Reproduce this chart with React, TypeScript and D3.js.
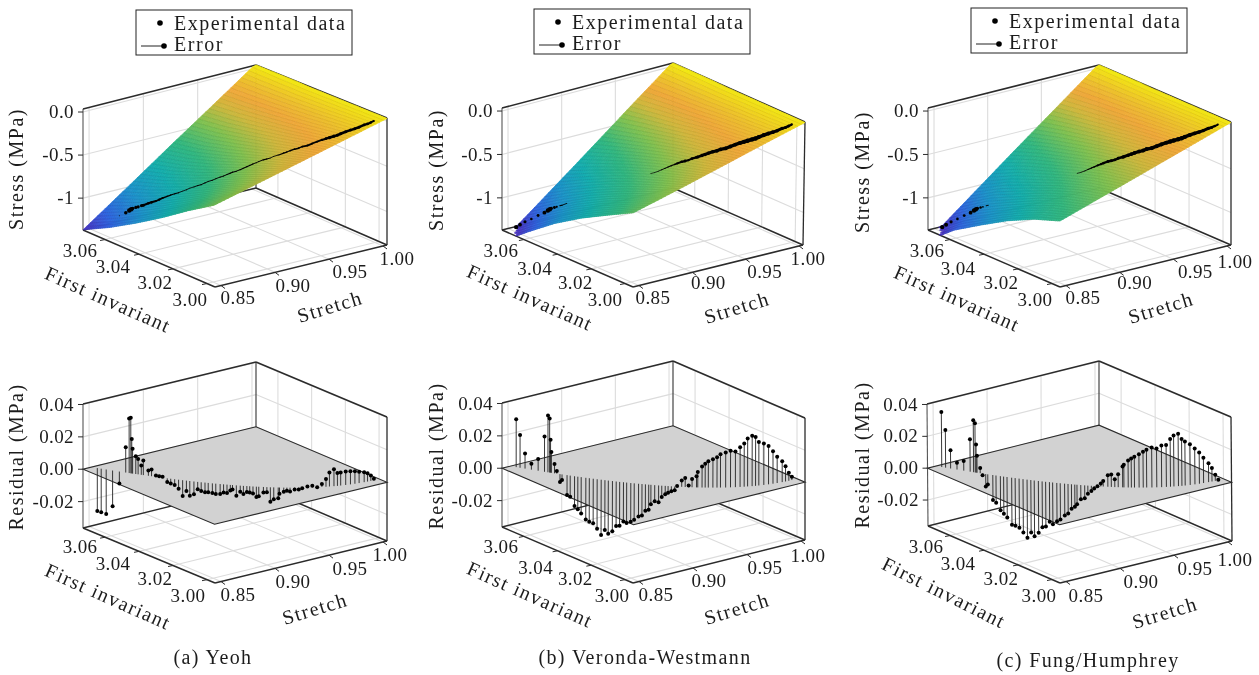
import React, { useEffect, useRef } from "react";
import * as d3 from "d3";

// Experimental samples, shared by all three fits
const stretchSamples = [
  0.8543, 0.8557, 0.8575, 0.8598, 0.8623, 0.8646, 0.8659, 0.8665, 0.8669, 0.8672, 0.8684, 0.8693, 0.8705, 0.8713, 0.8733,
  0.8745, 0.8762, 0.8775, 0.8789, 0.8807, 0.8822, 0.8838, 0.8854, 0.8871, 0.8887, 0.8901, 0.8919, 0.8935, 0.895, 0.8968,
  0.8982, 0.9, 0.9016, 0.9036, 0.9052, 0.9068, 0.9083, 0.9094, 0.9112, 0.9131, 0.9146, 0.9164, 0.9178, 0.9194, 0.9211,
  0.9224, 0.9248, 0.9266, 0.9284, 0.9303, 0.9327, 0.9334, 0.9358, 0.9376, 0.9394, 0.9421, 0.9445, 0.9466, 0.9497, 0.9528,
  0.9559, 0.959, 0.9617, 0.9641, 0.9672, 0.9696, 0.972, 0.9757, 0.9793, 0.9828, 0.9862, 0.9904, 0.9932, 0.9961, 0.9989,
];
const invariantSamples = [
  3.0709, 3.0695, 3.0677, 3.0654, 3.063, 3.0607, 3.0595, 3.0589, 3.0586, 3.0583, 3.0572, 3.0564, 3.0553, 3.0546, 3.0529,
  3.0518, 3.0503, 3.0492, 3.0481, 3.0465, 3.0454, 3.0441, 3.0428, 3.0415, 3.0403, 3.0392, 3.0379, 3.0367, 3.0356, 3.0345,
  3.0335, 3.0322, 3.0312, 3.0299, 3.0289, 3.0279, 3.0269, 3.0263, 3.0252, 3.0241, 3.0232, 3.0223, 3.0215, 3.0206, 3.0197,
  3.0191, 3.0179, 3.017, 3.0161, 3.0153, 3.0142, 3.0139, 3.0129, 3.0122, 3.0115, 3.0105, 3.0096, 3.0089, 3.0078, 3.0069,
  3.006, 3.0052, 3.0045, 3.004, 3.0033, 3.0028, 3.0024, 3.0018, 3.0013, 3.0009, 3.0006, 3.0003, 3.0001, 3.0, 3.0,
];
const stressSamples = [
  -1.349, -1.314, -1.271, -1.225, -1.174, -1.128, -1.097, -1.081, -1.074, -1.066, -1.05, -1.039, -1.021, -1.012, -0.981,
  -0.965, -0.942, -0.922, -0.899, -0.872, -0.853, -0.833, -0.814, -0.791, -0.771, -0.748, -0.729, -0.709, -0.694, -0.671,
  -0.651, -0.632, -0.612, -0.589, -0.574, -0.554, -0.535, -0.523, -0.508, -0.488, -0.469, -0.45, -0.434, -0.415, -0.399,
  -0.386, -0.364, -0.353, -0.341, -0.322, -0.306, -0.302, -0.283, -0.271, -0.257, -0.24, -0.229, -0.213, -0.202, -0.182,
  -0.163, -0.147, -0.136, -0.128, -0.116, -0.109, -0.097, -0.081, -0.07, -0.062, -0.054, -0.039, -0.035, -0.027, -0.019,
];

// Residuals of each fit, same order as the samples
const residualYeoh = [
  -0.0265, -0.0269, -0.0275, -0.0221, -0.0074, 0.0157, 0.0337, 0.0343, 0.0213, 0.0153, 0.011, 0.0095, 0.0057, 0.0091, 0.0033,
  0.0041, 0.0008, 0.0006, 0.0006, -0.0023, -0.0029, -0.0035, -0.0056, -0.0097, -0.0064, -0.0091, -0.0079, -0.0045, -0.0054, -0.006,
  -0.0058, -0.006, -0.0064, -0.0062, -0.005, -0.0052, -0.0035, -0.0027, -0.0064, -0.0037, -0.005, -0.0037, -0.0039, -0.0043, -0.0064,
  -0.0059, -0.0035, -0.0031, -0.0089, -0.0074, -0.0066, -0.0039, -0.0025, -0.0019, -0.0024, -0.0012, -0.0012, -0.0004, 0.0006, 0.001,
  0.0, 0.0019, 0.0048, 0.0087, 0.0105, 0.0079, 0.0081, 0.0083, 0.0081, 0.0077, 0.007, 0.0062, 0.0052, 0.0033, 0.0008,
];
const residualVeronda = [
  0.0296, 0.0202, 0.0094, 0.0037, 0.0073, 0.0219, 0.0352, 0.0335, 0.0204, 0.0129, 0.0058, 0.0017, -0.0049, -0.0035, -0.0123,
  -0.0131, -0.0185, -0.0202, -0.0225, -0.0258, -0.0271, -0.0277, -0.0308, -0.0344, -0.031, -0.0331, -0.0312, -0.0277, -0.0273, -0.0244,
  -0.0252, -0.024, -0.0227, -0.0204, -0.0196, -0.0165, -0.0156, -0.0121, -0.01, -0.0104, -0.0071, -0.0052, -0.0042, -0.0031, -0.0023,
  0.0003, 0.004, 0.0056, 0.001, 0.0052, 0.0069, 0.0096, 0.0131, 0.0148, 0.0164, 0.0177, 0.019, 0.0208, 0.0219, 0.0229,
  0.0223, 0.0248, 0.0271, 0.03, 0.0315, 0.0306, 0.0273, 0.026, 0.024, 0.0204, 0.0165, 0.0131, 0.0096, 0.005, 0.0021,
];
const residualFung = [
  0.0345, 0.0237, 0.0114, 0.0042, 0.0061, 0.0203, 0.0326, 0.0309, 0.0176, 0.0106, 0.0032, -0.0011, -0.0078, -0.0063, -0.0157,
  -0.0171, -0.0214, -0.0233, -0.0254, -0.0294, -0.0298, -0.0307, -0.0334, -0.0364, -0.0328, -0.0349, -0.0324, -0.0286, -0.0279, -0.0248,
  -0.026, -0.0239, -0.0226, -0.0199, -0.0184, -0.0152, -0.0138, -0.0121, -0.0089, -0.008, -0.0051, -0.0032, -0.0015, 0.0, 0.0019,
  0.0035, 0.0072, 0.0078, 0.0049, 0.008, 0.0129, 0.014, 0.0167, 0.018, 0.0192, 0.0207, 0.0222, 0.0235, 0.0248, 0.0241,
  0.0258, 0.026, 0.0296, 0.0315, 0.0324, 0.029, 0.0273, 0.0252, 0.0222, 0.0193, 0.0157, 0.0116, 0.0083, 0.0038, 0.0002,
];

// Fitted surfaces, read at a coarse grid (rows: invariant, columns: stretch)
const surfaceStretch = [0.8444, 0.8842, 0.9241, 0.9639, 1.0037];
const surfaceInvariant = [2.9953, 3.0108, 3.0264, 3.0419, 3.0575, 3.073];
const surfaceYeoh = [
  [-0.45, -0.33, -0.21, -0.09, 0.03],
  [-0.635, -0.47, -0.3, -0.14, 0.03],
  [-0.84, -0.62, -0.4, -0.19, 0.03],
  [-1.03, -0.77, -0.5, -0.23, 0.03],
  [-1.21, -0.9, -0.59, -0.27, 0.04],
  [-1.368, -1.01, -0.65, -0.3, 0.05],
];
const surfaceVeronda = [
  [-0.5, -0.37, -0.235, -0.1, 0.03],
  [-0.665, -0.49, -0.32, -0.145, 0.03],
  [-0.835, -0.62, -0.4, -0.185, 0.03],
  [-1.03, -0.765, -0.5, -0.235, 0.03],
  [-1.26, -0.93, -0.61, -0.28, 0.04],
  [-1.5, -1.11, -0.72, -0.33, 0.05],
];
const surfaceFung = [
  [-0.61, -0.45, -0.29, -0.13, 0.03],
  [-0.72, -0.53, -0.345, -0.155, 0.03],
  [-0.87, -0.645, -0.42, -0.195, 0.03],
  [-1.05, -0.78, -0.51, -0.235, 0.03],
  [-1.24, -0.92, -0.6, -0.28, 0.04],
  [-1.49, -1.1, -0.71, -0.33, 0.05],
];

const stretchTicks = [0.85, 0.9, 0.95, 1.0];
const invariantTicks = [3.0, 3.02, 3.04, 3.06];
const stressTicks = [0, -0.5, -1];
const stressTickLabels = ["0.0", "-0.5", "-1"];
const residualTicks = [0.04, 0.02, 0, -0.02];
const residualTickLabels = ["0.04", "0.02", "0.00", "-0.02"];

const colorStress = [-1.37, -1.2, -1.0, -0.8, -0.6, -0.42, -0.28, -0.17, -0.08, 0.0, 0.04];
const colorStops = ["#4a2fc0", "#2d62e0", "#1a92cc", "#12aeae", "#30b880", "#80c250", "#d0b83c", "#f0a83a", "#eec02c", "#f2dc18", "#f4ee10"];

type Pt = [number, number];
const FONT = "'Liberation Serif', 'DejaVu Serif', serif";
const INK = "#1c1c1c";

// Screen layout of each plot: F front, R right, L left, B back on the floor; T = top of that edge.
// sOff / iOff are label offsets of the stretch / invariant ticks, titles are [x, y] centres.
const panels = [
  {
    caption: "(a) Yeoh", captionAt: [213, 664], legend: [136, 10],
    surface: surfaceYeoh, residual: residualYeoh,
    top: {
      F: [215, 287], R: [387, 245], L: [83, 230], B: [256, 188], TL: [83, 109], TR: [387, 118], TB: [256, 65],
      sOff: [[17, 12.5], [18, 14], [21, 13], [14, 13]], iOff: [[-17, 16], [-18, 14], [-26, 13], [-25, 11.5]],
      stretchAt: [330, 307], firstAt: [108, 300], firstAngle: 24, zAt: [17, 169],
    },
    bottom: {
      F: [215, 583], R: [387, 541], L: [83, 528], B: [256, 485], TL: [83, 404], TR: [387, 417], TB: [256, 362],
      sOff: [[17, 13.5], [18, 14], [21, 14], [7, 13]], iOff: [[-19, 16], [-18, 13.5], [-26, 13], [-25, 10]],
      stretchAt: [315, 609], firstAt: [108, 597], firstAngle: 24, zAt: [17, 457],
    },
  },
  {
    caption: "(b) Veronda-Westmann", captionAt: [645, 664], legend: [534, 9],
    surface: surfaceVeronda, residual: residualVeronda,
    top: {
      F: [633, 287], R: [803, 245], L: [502, 230], B: [673, 188], TL: [502, 108], TR: [805, 122], TB: [673, 63],
      sOff: [[14, 12.5], [16, 11], [19, 13], [9, 13]], iOff: [[-20, 16], [-16, 14], [-23, 15], [-23, 11.5]],
      stretchAt: [737, 308], firstAt: [530, 298], firstAngle: 24, zAt: [437, 170],
    },
    bottom: {
      F: [633, 583], R: [805, 540], L: [502, 527], B: [673, 484], TL: [502, 403], TR: [805, 418], TB: [673, 361],
      sOff: [[17, 13.5], [16, 13], [18, 13.5], [7, 15]], iOff: [[-13, 16], [-16, 14], [-22, 17], [-23, 11]],
      stretchAt: [737, 609], firstAt: [530, 595], firstAngle: 24, zAt: [437, 456],
    },
  },
  {
    caption: "(c) Fung/Humphrey", captionAt: [1088, 667], legend: [971, 8],
    surface: surfaceFung, residual: residualFung,
    top: {
      F: [1060, 287], R: [1231, 245], L: [928, 230], B: [1099, 188], TL: [928, 108], TR: [1231, 122], TB: [1099, 65],
      sOff: [[17, 12.5], [15, 11], [22, 13], [8, 16]], iOff: [[-17, 16], [-17, 14], [-26, 15], [-23, 11.5]],
      stretchAt: [1161, 308], firstAt: [957, 299], firstAngle: 24, zAt: [863, 172],
    },
    bottom: {
      F: [1060, 583], R: [1232, 541], L: [928, 526], B: [1099, 483], TL: [927, 404], TR: [1231, 417], TB: [1099, 361],
      sOff: [[20, 14.5], [21, 14], [21, 13.5], [7, 18]], iOff: [[-13, 16], [-17, 14], [-26, 14], [-24, 11]],
      stretchAt: [1165, 613], firstAt: [944, 593], firstAngle: 26.5, zAt: [863, 455],
    },
  },
];

const uScale = d3.scaleLinear().domain([0.8444, 1.0037]).range([0, 1]);
const vScale = d3.scaleLinear().domain([2.9953, 3.073]).range([0, 1]);

const mix = (a: Pt, b: Pt, t: number): Pt => [a[0] + (b[0] - a[0]) * t, a[1] + (b[1] - a[1]) * t];

// trilinear projection between the eight box corners
const makeProjection = (box: any, zDomain: number[]) => {
  const w = d3.scaleLinear().domain(zDomain).range([0, 1]);
  const TF: Pt = [box.TL[0] + box.TR[0] - box.TB[0], box.TL[1] + box.TR[1] - box.TB[1]];
  return (stretch: number, invariant: number, z: number): Pt => {
    const u = uScale(stretch);
    const v = vScale(invariant);
    const floor = mix(mix(box.F, box.R, u), mix(box.L, box.B, u), v);
    const ceil = mix(mix(TF, box.TR, u), mix(box.TL, box.TB, u), v);
    return mix(floor, ceil, w(z));
  };
};

const drawBox = (g: any, project: any, box: any, zDomain: number[], zTicks: number[], zLabels: string[], zTitle: string) => {
  const [zMin, zMax] = zDomain;
  const [sMin, sMax] = uScale.domain();
  const [iMin, iMax] = vScale.domain();
  const seg = (a: Pt, b: Pt, stroke: string, width: number) =>
    g.append("line").attr("x1", a[0]).attr("y1", a[1]).attr("x2", b[0]).attr("y2", b[1]).attr("stroke", stroke).attr("stroke-width", width);
  const GRID = "#dcdcdc";

  stretchTicks.forEach((t) => {
    seg(project(t, iMin, zMin), project(t, iMax, zMin), GRID, 1.1);
    seg(project(t, iMax, zMin), project(t, iMax, zMax), GRID, 1.1);
  });
  invariantTicks.forEach((t) => {
    seg(project(sMin, t, zMin), project(sMax, t, zMin), GRID, 1.1);
    seg(project(sMax, t, zMin), project(sMax, t, zMax), GRID, 1.1);
  });
  zTicks.forEach((t) => {
    seg(project(sMin, iMax, t), project(sMax, iMax, t), GRID, 1.1);
    seg(project(sMax, iMax, t), project(sMax, iMin, t), GRID, 1.1);
  });

  const DARK = "#2b2b2b";
  seg(box.L, box.TL, "#555", 1.1);
  seg(box.R, box.TR, DARK, 1.3);
  seg(box.B, box.TB, "#444", 1.2);
  seg(box.TL, box.TB, DARK, 1.5);
  seg(box.TB, box.TR, DARK, 1.5);
  seg(box.L, box.B, DARK, 1.3);
  seg(box.B, box.R, DARK, 1.5);
  seg(box.L, box.F, DARK, 1.5);
  seg(box.F, box.R, DARK, 1.5);

  const tickText = (p: Pt, label: string, anchor = "middle") =>
    g.append("text").attr("x", p[0]).attr("y", p[1]).attr("text-anchor", anchor).attr("dy", "0.32em")
      .attr("font-family", FONT).attr("font-size", 19).attr("letter-spacing", 0.4).attr("fill", INK).text(label);

  stretchTicks.forEach((t, i) => {
    const p = project(t, iMin, zMin);
    seg(p, [p[0] + 4, p[1] + 3] as Pt, DARK, 1);
    tickText([p[0] + box.sOff[i][0], p[1] + box.sOff[i][1]], t.toFixed(2));
  });
  invariantTicks.forEach((t, i) => {
    const p = project(sMin, t, zMin);
    seg(p, [p[0] - 5, p[1] + 1] as Pt, DARK, 1);
    tickText([p[0] + box.iOff[i][0], p[1] + box.iOff[i][1]], t.toFixed(2));
  });
  zTicks.forEach((t, i) => {
    const p = project(sMin, iMax, t);
    seg(p, [p[0] - 5, p[1]] as Pt, DARK, 1);
    tickText([p[0] - 9, p[1]], zLabels[i], "end");
  });

  const title = (at: number[], angle: number, label: string) =>
    g.append("text").attr("transform", `translate(${at[0]},${at[1]}) rotate(${angle})`).attr("text-anchor", "middle").attr("dy", "0.32em")
      .attr("font-family", FONT).attr("font-size", 20).attr("letter-spacing", 1.5).attr("fill", INK).text(label);
  title(box.stretchAt, -17, "Stretch");
  title(box.firstAt, box.firstAngle, "First invariant");
  title(box.zAt, -90, zTitle);
};

const App = () => {
  const svgRef = useRef<SVGSVGElement>(null);

  useEffect(() => {
    const svg = d3.select(svgRef.current);
    svg.selectAll("*").remove();

    const color = d3.scaleLinear<string>().domain(colorStress).range(colorStops).clamp(true);
    const radius = d3.scaleLinear().domain([-0.0125, -0.004, 0.005, 0.03]).range([0.35, 0.6, 1.4, 2.2]).clamp(true);

    panels.forEach((panel) => {
      // ---- upper plot: stress surface ----
      const stressDomain = [-1.37, 0.035];
      const top = svg.append("g");
      const projectTop = makeProjection(panel.top, stressDomain);
      drawBox(top, projectTop, panel.top, stressDomain, stressTicks, stressTickLabels, "Stress (MPa)");

      // each grid cell of the read table is split only to get a smooth shaded mesh
      const steps = 12;
      const surfaceG = top.append("g");
      let meshAlong = "";
      let meshAcross = "";
      for (let c = surfaceStretch.length - 2; c >= 0; c--) {
        for (let i = steps - 1; i >= 0; i--) {
          for (let r = surfaceInvariant.length - 2; r >= 0; r--) {
            for (let j = steps - 1; j >= 0; j--) {
              const cell = (a: number, b: number) => {
                const s = d3.interpolateNumber(surfaceStretch[c], surfaceStretch[c + 1])(a / steps);
                const inv = d3.interpolateNumber(surfaceInvariant[r], surfaceInvariant[r + 1])(b / steps);
                const low = d3.interpolateNumber(panel.surface[r][c], panel.surface[r][c + 1])(a / steps);
                const high = d3.interpolateNumber(panel.surface[r + 1][c], panel.surface[r + 1][c + 1])(a / steps);
                return { s, inv, z: d3.interpolateNumber(low, high)(b / steps) };
              };
              const corners = [cell(i, j), cell(i + 1, j), cell(i + 1, j + 1), cell(i, j + 1)];
              const meanZ = d3.mean(corners, (d) => d.z)!;
              if (meanZ < stressDomain[0]) continue;
              const pts = corners.map((d) => projectTop(d.s, d.inv, Math.min(stressDomain[1], Math.max(stressDomain[0], d.z))));
              const fill = color(meanZ);
              surfaceG.append("path")
                .attr("d", d3.line()(pts as any) + "Z")
                .attr("fill", fill)
                .attr("stroke", fill)
                .attr("stroke-width", 0.7);
              meshAlong += d3.line()([pts[0], pts[3]] as any);
              meshAcross += d3.line()([pts[0], pts[1]] as any);
            }
          }
        }
      }
      surfaceG.append("path").attr("d", meshAlong).attr("fill", "none").attr("stroke", "#2a2000").attr("stroke-opacity", 0.11).attr("stroke-width", 0.6);
      surfaceG.append("path").attr("d", meshAcross).attr("fill", "none").attr("stroke", "#2a2000").attr("stroke-opacity", 0.05).attr("stroke-width", 0.5);

      // markers sink into the surface where the fit is above the data
      const shown = (i: number) => panel.residual[i] >= -0.0125;
      const at = (i: number) => projectTop(stretchSamples[i], invariantSamples[i], stressSamples[i]);
      stretchSamples.forEach((_, i) => {
        if (!shown(i)) return;
        const p = at(i);
        top.append("circle").attr("cx", p[0]).attr("cy", p[1]).attr("r", radius(panel.residual[i])).attr("fill", "#000");
        // past the sparse first samples the markers overlap into a solid trace
        if (i >= 12 && i < stretchSamples.length - 1 && shown(i + 1)) {
          const q = at(i + 1);
          top.append("line").attr("x1", p[0]).attr("y1", p[1]).attr("x2", q[0]).attr("y2", q[1]).attr("stroke", "#000")
            .attr("stroke-width", 0.85 * (radius(panel.residual[i]) + radius(panel.residual[i + 1])));
        }
      });

      // ---- lower plot: residual stems ----
      const residualDomain = [-0.0363, 0.0403];
      const bottom = svg.append("g");
      const projectBottom = makeProjection(panel.bottom, residualDomain);
      drawBox(bottom, projectBottom, panel.bottom, residualDomain, residualTicks, residualTickLabels, "Residual (MPa)");

      const [sMin, sMax] = uScale.domain();
      const [iMin, iMax] = vScale.domain();
      const plane = [projectBottom(sMin, iMin, 0), projectBottom(sMax, iMin, 0), projectBottom(sMax, iMax, 0), projectBottom(sMin, iMax, 0)];
      bottom.append("path").attr("d", d3.line()(plane as any) + "Z").attr("fill", "#d2d2d2").attr("stroke", "#2b2b2b").attr("stroke-width", 1.1);

      stretchSamples.forEach((s, i) => {
        const inv = invariantSamples[i];
        const a = projectBottom(s, inv, 0);
        const b = projectBottom(s, inv, panel.residual[i]);
        bottom.append("line").attr("x1", a[0]).attr("y1", a[1]).attr("x2", b[0]).attr("y2", b[1]).attr("stroke", "#222").attr("stroke-width", 0.9);
      });
      stretchSamples.forEach((s, i) => {
        const b = projectBottom(s, invariantSamples[i], panel.residual[i]);
        bottom.append("circle").attr("cx", b[0]).attr("cy", b[1]).attr("r", 2).attr("fill", "#000");
      });

      // ---- legend ----
      const [lx, ly] = panel.legend;
      const legend = svg.append("g").attr("transform", `translate(${lx},${ly})`);
      legend.append("rect").attr("x", 0).attr("y", 0).attr("width", 216).attr("height", 45).attr("fill", "#fff").attr("stroke", "#222").attr("stroke-width", 1);
      legend.append("circle").attr("cx", 24).attr("cy", 13).attr("r", 2.8).attr("fill", "#000");
      legend.append("line").attr("x1", 5).attr("y1", 36).attr("x2", 28).attr("y2", 36).attr("stroke", "#222").attr("stroke-width", 1);
      legend.append("circle").attr("cx", 28).attr("cy", 36).attr("r", 2.8).attr("fill", "#000");
      ["Experimental data", "Error"].forEach((label, i) => {
        legend.append("text").attr("x", 38).attr("y", 20 + i * 21).attr("font-family", FONT).attr("font-size", 20).attr("letter-spacing", 1.55).attr("fill", INK).text(label);
      });

      svg.append("text").attr("x", panel.captionAt[0]).attr("y", panel.captionAt[1]).attr("text-anchor", "middle")
        .attr("font-family", FONT).attr("font-size", 20).attr("letter-spacing", 1.4).attr("fill", INK).text(panel.caption);
    });
  }, []);

  return <svg ref={svgRef} width={1259} height={675} style={{ position: "absolute", left: 0, top: 0, background: "#fff", filter: "blur(0.35px)" }} />;
};

export default App;
